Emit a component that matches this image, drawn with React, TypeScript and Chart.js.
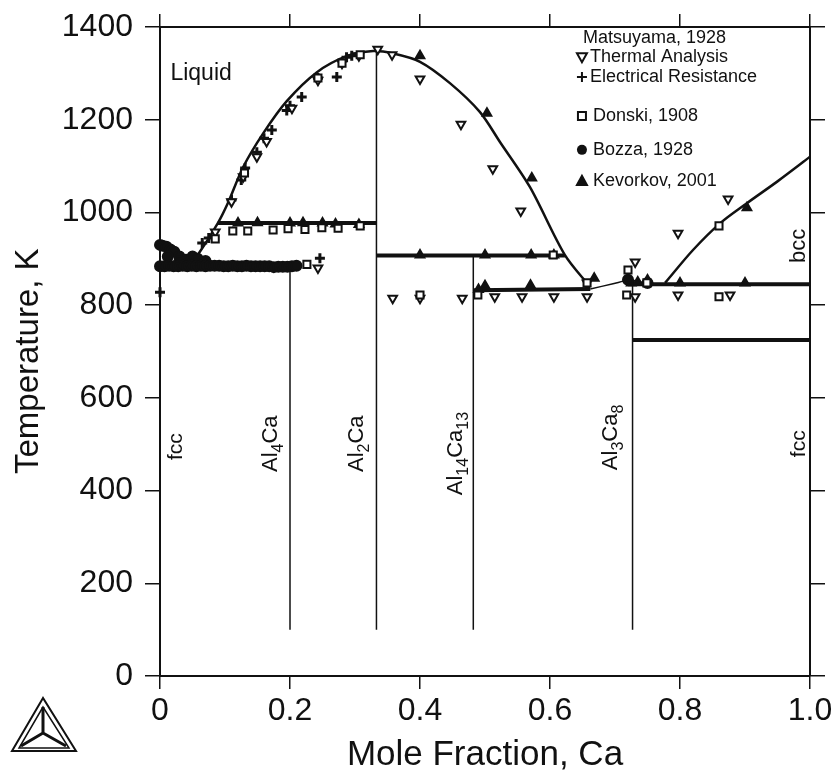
import React, { useEffect, useRef } from "react";
import { Chart, registerables } from "chart.js";

Chart.register(...registerables);

type P = [number, number];

const yTicks = [0, 200, 400, 600, 800, 1000, 1200, 1400];
const xTicks = [0, 0.2, 0.4, 0.6, 0.8, 1.0];

const liquidusLeft: P[] = [[0.045, 888], [0.058, 908], [0.089, 977], [0.105, 1022], [0.128, 1098], [0.159, 1171], [0.195, 1240], [0.241, 1302], [0.287, 1337], [0.328, 1348], [0.358, 1343], [0.4, 1325], [0.446, 1279], [0.492, 1217], [0.523, 1152], [0.569, 1055], [0.623, 908], [0.662, 839]];
const liquidusMid: P[] = [[0.662, 835], [0.697, 846], [0.723, 854], [0.745, 848]];
const liquidusRight: P[] = [[0.777, 848], [0.82, 919], [0.862, 977], [0.903, 1020], [0.95, 1067], [1.0, 1120]];

const tie975: P[] = [[0.089, 977], [0.333, 977]];
const tie885: P[] = [[0, 885], [0.2, 885]];
const tie905: P[] = [[0.333, 907], [0.623, 907]];
const tie830: P[] = [[0.482, 832], [0.662, 835]];
const tie845: P[] = [[0.72, 845], [1.0, 845]];
const tie725: P[] = [[0.727, 725], [1.0, 725]];

const compoundAl4Ca: P[] = [[0.2, 100], [0.2, 885]];
const compoundAl2Ca: P[] = [[0.333, 100], [0.333, 1348]];
const compoundAl14Ca13: P[] = [[0.482, 100], [0.482, 907]];
const compoundAl3Ca8: P[] = [[0.727, 100], [0.727, 845]];

const thermalAnalysis: P[] = [[0.335, 1352], [0.357, 1340], [0.4, 1288], [0.463, 1190], [0.512, 1094], [0.555, 1003], [0.306, 1338], [0.28, 1322], [0.243, 1285], [0.203, 1225], [0.164, 1153], [0.149, 1120], [0.128, 1077], [0.11, 1023], [0.085, 958], [0.243, 880], [0.358, 815], [0.4, 815], [0.465, 815], [0.515, 818], [0.557, 818], [0.606, 818], [0.657, 818], [0.731, 818], [0.797, 822], [0.877, 822], [0.731, 893], [0.797, 955], [0.874, 1029], [0.657, 848]];
const electricalResistance: P[] = [[0.272, 1292], [0.218, 1249], [0.2, 1230], [0.172, 1178], [0.149, 1130], [0.131, 1096], [0.11, 1027], [0.065, 934], [0.246, 901], [0.243, 1290], [0.287, 1335], [0, 828], [0.075, 945], [0.295, 1338], [0.195, 1220], [0.16, 1160], [0.125, 1070]];
const donski: P[] = [[0.085, 943], [0.112, 960], [0.135, 960], [0.174, 962], [0.197, 965], [0.223, 963], [0.249, 967], [0.274, 966], [0.308, 971], [0.226, 888], [0.489, 822], [0.28, 1322], [0.308, 1340], [0.605, 908], [0.657, 848], [0.72, 876], [0.718, 822], [0.86, 971], [0.86, 818], [0.749, 848], [0.243, 1290], [0.4, 822], [0.13, 1085]];
const bozza: P[] = [
  [0, 930], [0.004, 928], [0.01, 926], [0.016, 920], [0.022, 915], [0.03, 905], [0.04, 898], [0.05, 905], [0.058, 900], [0.07, 895], [0.03, 895], [0.012, 905],
  [0, 884], [0.007, 884], [0.014, 885], [0.021, 884], [0.028, 884], [0.035, 885], [0.042, 884], [0.049, 885], [0.056, 884], [0.063, 885], [0.07, 884], [0.077, 885],
  [0.084, 885], [0.091, 885], [0.098, 884], [0.105, 884], [0.112, 885], [0.119, 884], [0.126, 884], [0.133, 885], [0.14, 884], [0.147, 884], [0.154, 884], [0.161, 884],
  [0.168, 884], [0.175, 882], [0.182, 883], [0.189, 883], [0.196, 883], [0.203, 884], [0.21, 885], [0.72, 855], [0.75, 848],
];
const kevorkov: P[] = [[0.4, 1338], [0.503, 1214], [0.572, 1074], [0.903, 1010], [0.4, 908], [0.5, 908], [0.571, 908], [0.606, 908], [0.5, 842], [0.57, 843], [0.49, 834], [0.668, 858], [0.725, 848], [0.75, 854], [0.8, 848], [0.9, 848], [0.12, 977], [0.15, 978], [0.2, 977], [0.22, 978], [0.25, 977], [0.27, 975], [0.306, 974], [0.735, 850]];

const boundaries = [liquidusLeft, liquidusMid, liquidusRight];
const tieLines = [tie975, tie885, tie905, tie830, tie845, tie725];
const compounds = [compoundAl4Ca, compoundAl2Ca, compoundAl14Ca13, compoundAl3Ca8];

const FONT = '"Liberation Sans", Arial, sans-serif';
const INK = "#111111";

const toXY = (pts: P[]) => pts.map(([x, y]) => ({ x, y }));

type Run = [string, boolean];
const rotatedLabels: { x: number; y: number; size: number; runs: Run[] }[] = [
  { x: 0.0338, y: 466, size: 21, runs: [["fcc", false]] },
  { x: 0.18, y: 440, size: 22, runs: [["Al", false], ["4", true], ["Ca", false]] },
  { x: 0.312, y: 440, size: 22, runs: [["Al", false], ["2", true], ["Ca", false]] },
  { x: 0.465, y: 390, size: 22, runs: [["Al", false], ["14", true], ["Ca", false], ["13", true]] },
  { x: 0.703, y: 444, size: 22, runs: [["Al", false], ["3", true], ["Ca", false], ["8", true]] },
  { x: 0.992, y: 472, size: 21, runs: [["fcc", false]] },
  { x: 0.992, y: 891, size: 22, runs: [["bcc", false]] },
];

const annotate = {
  id: "annotate",
  afterDatasetsDraw(chart: any) {
    const { ctx, scales } = chart;
    const sx = scales.x;
    const sy = scales.y;
    ctx.save();
    ctx.fillStyle = INK;
    ctx.strokeStyle = INK;
    ctx.textBaseline = "middle";
    ctx.textAlign = "left";

    ctx.font = `23px ${FONT}`;
    ctx.fillText("Liquid", sx.getPixelForValue(0.016), sy.getPixelForValue(1300));

    ctx.save();
    ctx.translate(38, sy.getPixelForValue(679));
    ctx.rotate(-Math.PI / 2);
    ctx.textBaseline = "alphabetic";
    ctx.textAlign = "center";
    ctx.font = `33px ${FONT}`;
    ctx.fillText("Temperature, K", 0, 0);
    ctx.restore();

    for (const lab of rotatedLabels) {
      ctx.save();
      ctx.translate(sx.getPixelForValue(lab.x), sy.getPixelForValue(lab.y));
      ctx.rotate(-Math.PI / 2);
      ctx.textBaseline = "alphabetic";
      let off = 0;
      for (const [t, sub] of lab.runs) {
        ctx.font = `${sub ? 16 : lab.size}px ${FONT}`;
        ctx.fillText(t, off, sub ? 6 : 0);
        off += ctx.measureText(t).width;
      }
      ctx.restore();
    }

    const lx = sx.getPixelForValue(0.643);
    const text = (s: string, v: number, dx: number) => {
      ctx.font = `18px ${FONT}`;
      ctx.fillText(s, lx + dx, sy.getPixelForValue(v));
    };
    const mark = (kind: string, v: number) => {
      const px = lx + 4;
      const py = sy.getPixelForValue(v);
      ctx.lineWidth = 2;
      ctx.beginPath();
      if (kind === "down") {
        ctx.moveTo(px - 5, py - 4); ctx.lineTo(px + 5, py - 4); ctx.lineTo(px, py + 5); ctx.closePath(); ctx.stroke();
      } else if (kind === "plus") {
        ctx.moveTo(px - 5, py); ctx.lineTo(px + 5, py); ctx.moveTo(px, py - 5); ctx.lineTo(px, py + 5); ctx.stroke();
      } else if (kind === "rect") {
        ctx.rect(px - 4, py - 4, 8, 8); ctx.stroke();
      } else if (kind === "dot") {
        ctx.arc(px, py, 5, 0, Math.PI * 2); ctx.fill();
      } else {
        ctx.moveTo(px - 5, py + 4); ctx.lineTo(px + 5, py + 4); ctx.lineTo(px, py - 5); ctx.closePath(); ctx.fill(); ctx.stroke();
      }
    };
    text("Matsuyama, 1928", 1376, 5);
    mark("down", 1335); text("Thermal Analysis", 1335, 12);
    mark("plus", 1292); text("Electrical Resistance", 1292, 12);
    mark("rect", 1208); text("Donski, 1908", 1208, 15);
    mark("dot", 1135); text("Bozza, 1928", 1135, 15);
    mark("up", 1068); text("Kevorkov, 2001", 1068, 15);

    ctx.lineWidth = 2;
    ctx.lineJoin = "miter";
    const tri = (ax: number, ay: number, bx: number, by: number, cx: number, cy: number) => {
      ctx.beginPath(); ctx.moveTo(ax, ay); ctx.lineTo(bx, by); ctx.lineTo(cx, cy); ctx.closePath(); ctx.stroke();
    };
    tri(43, 698, 12, 751, 76, 751);
    ctx.lineWidth = 1.5;
    tri(43, 707, 19, 748, 69, 748);
    ctx.lineWidth = 3;
    ctx.beginPath();
    ctx.moveTo(43, 707); ctx.lineTo(43, 733);
    ctx.moveTo(43, 733); ctx.lineTo(21, 746);
    ctx.moveTo(43, 733); ctx.lineTo(66, 746);
    ctx.stroke();
    ctx.restore();
  },
};

const axisFit = (prop: "width" | "height", size: number) => (scale: any) => {
  scale[prop] = size;
  scale.paddingTop = 0;
  scale.paddingBottom = 0;
  scale.paddingLeft = 0;
  scale.paddingRight = 0;
};

export default function App() {
  const ref = useRef<HTMLCanvasElement>(null);
  useEffect(() => {
    const line = (data: P[], width: number, tension = 0) => ({
      type: "line" as const,
      data: toXY(data),
      showLine: true,
      borderColor: INK,
      borderWidth: width,
      pointRadius: 0,
      tension,
      fill: false,
      order: 2,
    });
    const points = (label: string, data: P[], style: string, fillColor: string, rotation: number, radius: number, width = 2) => ({
      type: "scatter" as const,
      label,
      data: toXY(data),
      showLine: false,
      clip: false,
      pointStyle: style,
      pointRotation: rotation,
      pointRadius: radius,
      pointBorderWidth: width,
      pointBorderColor: INK,
      pointBackgroundColor: fillColor,
      order: 1,
    });
    const grid = (tickLength: number) => ({ display: true, drawOnChartArea: false, color: INK, lineWidth: 1.5, tickLength, tickColor: INK });
    const border = { display: true, color: INK, width: 2 };
    const tickFont = { family: FONT, size: 32 };
    const chart = new Chart(ref.current!, {
      type: "scatter",
      data: {
        datasets: [
          ...boundaries.map((b, i) => line(b, i === 1 ? 1.5 : 2.5, 0.3)),
          ...tieLines.map((t) => line(t, 4)),
          ...compounds.map((c) => line(c, 1.5)),
          points("Donski, 1908", donski, "rect", "#ffffff", 0, 5),
          points("Thermal Analysis", thermalAnalysis, "triangle", "#ffffff", 180, 5),
          points("Electrical Resistance", electricalResistance, "cross", INK, 0, 5, 3),
          points("Bozza, 1928", bozza, "circle", INK, 0, 5),
          points("Kevorkov, 2001", kevorkov, "triangle", INK, 0, 5),
        ] as any,
      },
      plugins: [annotate],
      options: {
        animation: false,
        responsive: false,
        layout: { padding: 0 },
        plugins: { legend: { display: false }, tooltip: { enabled: false } },
        scales: {
          x: {
            type: "linear",
            min: 0,
            max: 1,
            position: "bottom",
            afterFit: axisFit("height", 99),
            afterBuildTicks: (s: any) => { s.ticks = xTicks.map((value) => ({ value })); },
            grid: grid(13),
            border,
            ticks: {
              color: INK,
              font: tickFont,
              padding: 3,
              maxRotation: 0,
              callback: (v: any) => (v === 0 ? "0" : Number(v).toFixed(1)),
            },
            title: { display: true, text: "Mole Fraction, Ca", color: INK, font: { family: FONT, size: 35, lineHeight: 1 }, padding: { top: 0, bottom: 2 } },
          },
          x2: {
            type: "linear",
            min: 0,
            max: 1,
            position: "top",
            afterFit: axisFit("height", 27),
            afterBuildTicks: (s: any) => { s.ticks = xTicks.map((value) => ({ value })); },
            grid: grid(13),
            border,
            ticks: { display: false },
          },
          y: {
            type: "linear",
            min: 0,
            max: 1400,
            position: "left",
            afterFit: axisFit("width", 160),
            afterBuildTicks: (s: any) => { s.ticks = yTicks.map((value) => ({ value })); },
            grid: grid(15),
            border,
            ticks: { color: INK, font: tickFont, padding: 12, callback: (v: any) => String(v) },
          },
          y2: {
            type: "linear",
            min: 0,
            max: 1400,
            position: "right",
            afterFit: axisFit("width", 26),
            afterBuildTicks: (s: any) => { s.ticks = yTicks.map((value) => ({ value })); },
            grid: grid(15),
            border,
            ticks: { display: false },
          },
        },
      } as any,
    });
    return () => chart.destroy();
  }, []);
  return (
    <canvas
      ref={ref}
      width={836}
      height={775}
      style={{ position: "absolute", left: 0, top: 0, width: 836, height: 775, background: "#ffffff" }}
    />
  );
}
